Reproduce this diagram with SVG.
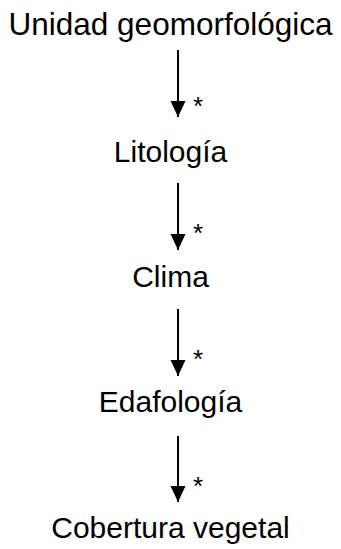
<svg xmlns="http://www.w3.org/2000/svg" width="341" height="549" viewBox="0 0 341 549">
<defs>
<marker id="ah" markerUnits="userSpaceOnUse" markerWidth="18" markerHeight="16" refX="16" refY="8" orient="auto">
<path d="M0,0.5 L16,8 L0,15.5 Z" fill="#000"/>
</marker>
<style>
.t{font-family:"Liberation Sans",Arial,sans-serif;font-size:30px;fill:#000;text-anchor:middle}
.s{font-family:"Liberation Sans",Arial,sans-serif;font-size:26px;fill:#000}
.c{stroke:#000;stroke-width:2;fill:none}
</style>
</defs>
<rect width="341" height="549" fill="#fff"/>
<g id="n1"><text class="t" x="170.5" y="35" style="font-size:31.5px">Unidad geomorfológica</text></g>
<g id="n2"><text class="t" x="170.5" y="162">Litología</text></g>
<g id="n3"><text class="t" x="170.5" y="287">Clima</text></g>
<g id="n4"><text class="t" x="170.5" y="412">Edafología</text></g>
<g id="n5"><text class="t" x="170.5" y="538">Cobertura vegetal</text></g>
<g id="connectors">
<line class="c" x1="178" y1="50" x2="178" y2="117" marker-end="url(#ah)"/>
<text class="s" x="193" y="115">*</text>
<line class="c" x1="178" y1="183" x2="178" y2="250" marker-end="url(#ah)"/>
<text class="s" x="193" y="242">*</text>
<line class="c" x1="178" y1="309" x2="178" y2="376" marker-end="url(#ah)"/>
<text class="s" x="193" y="368">*</text>
<line class="c" x1="178" y1="436" x2="178" y2="502" marker-end="url(#ah)"/>
<text class="s" x="193" y="495">*</text>
</g>
</svg>
